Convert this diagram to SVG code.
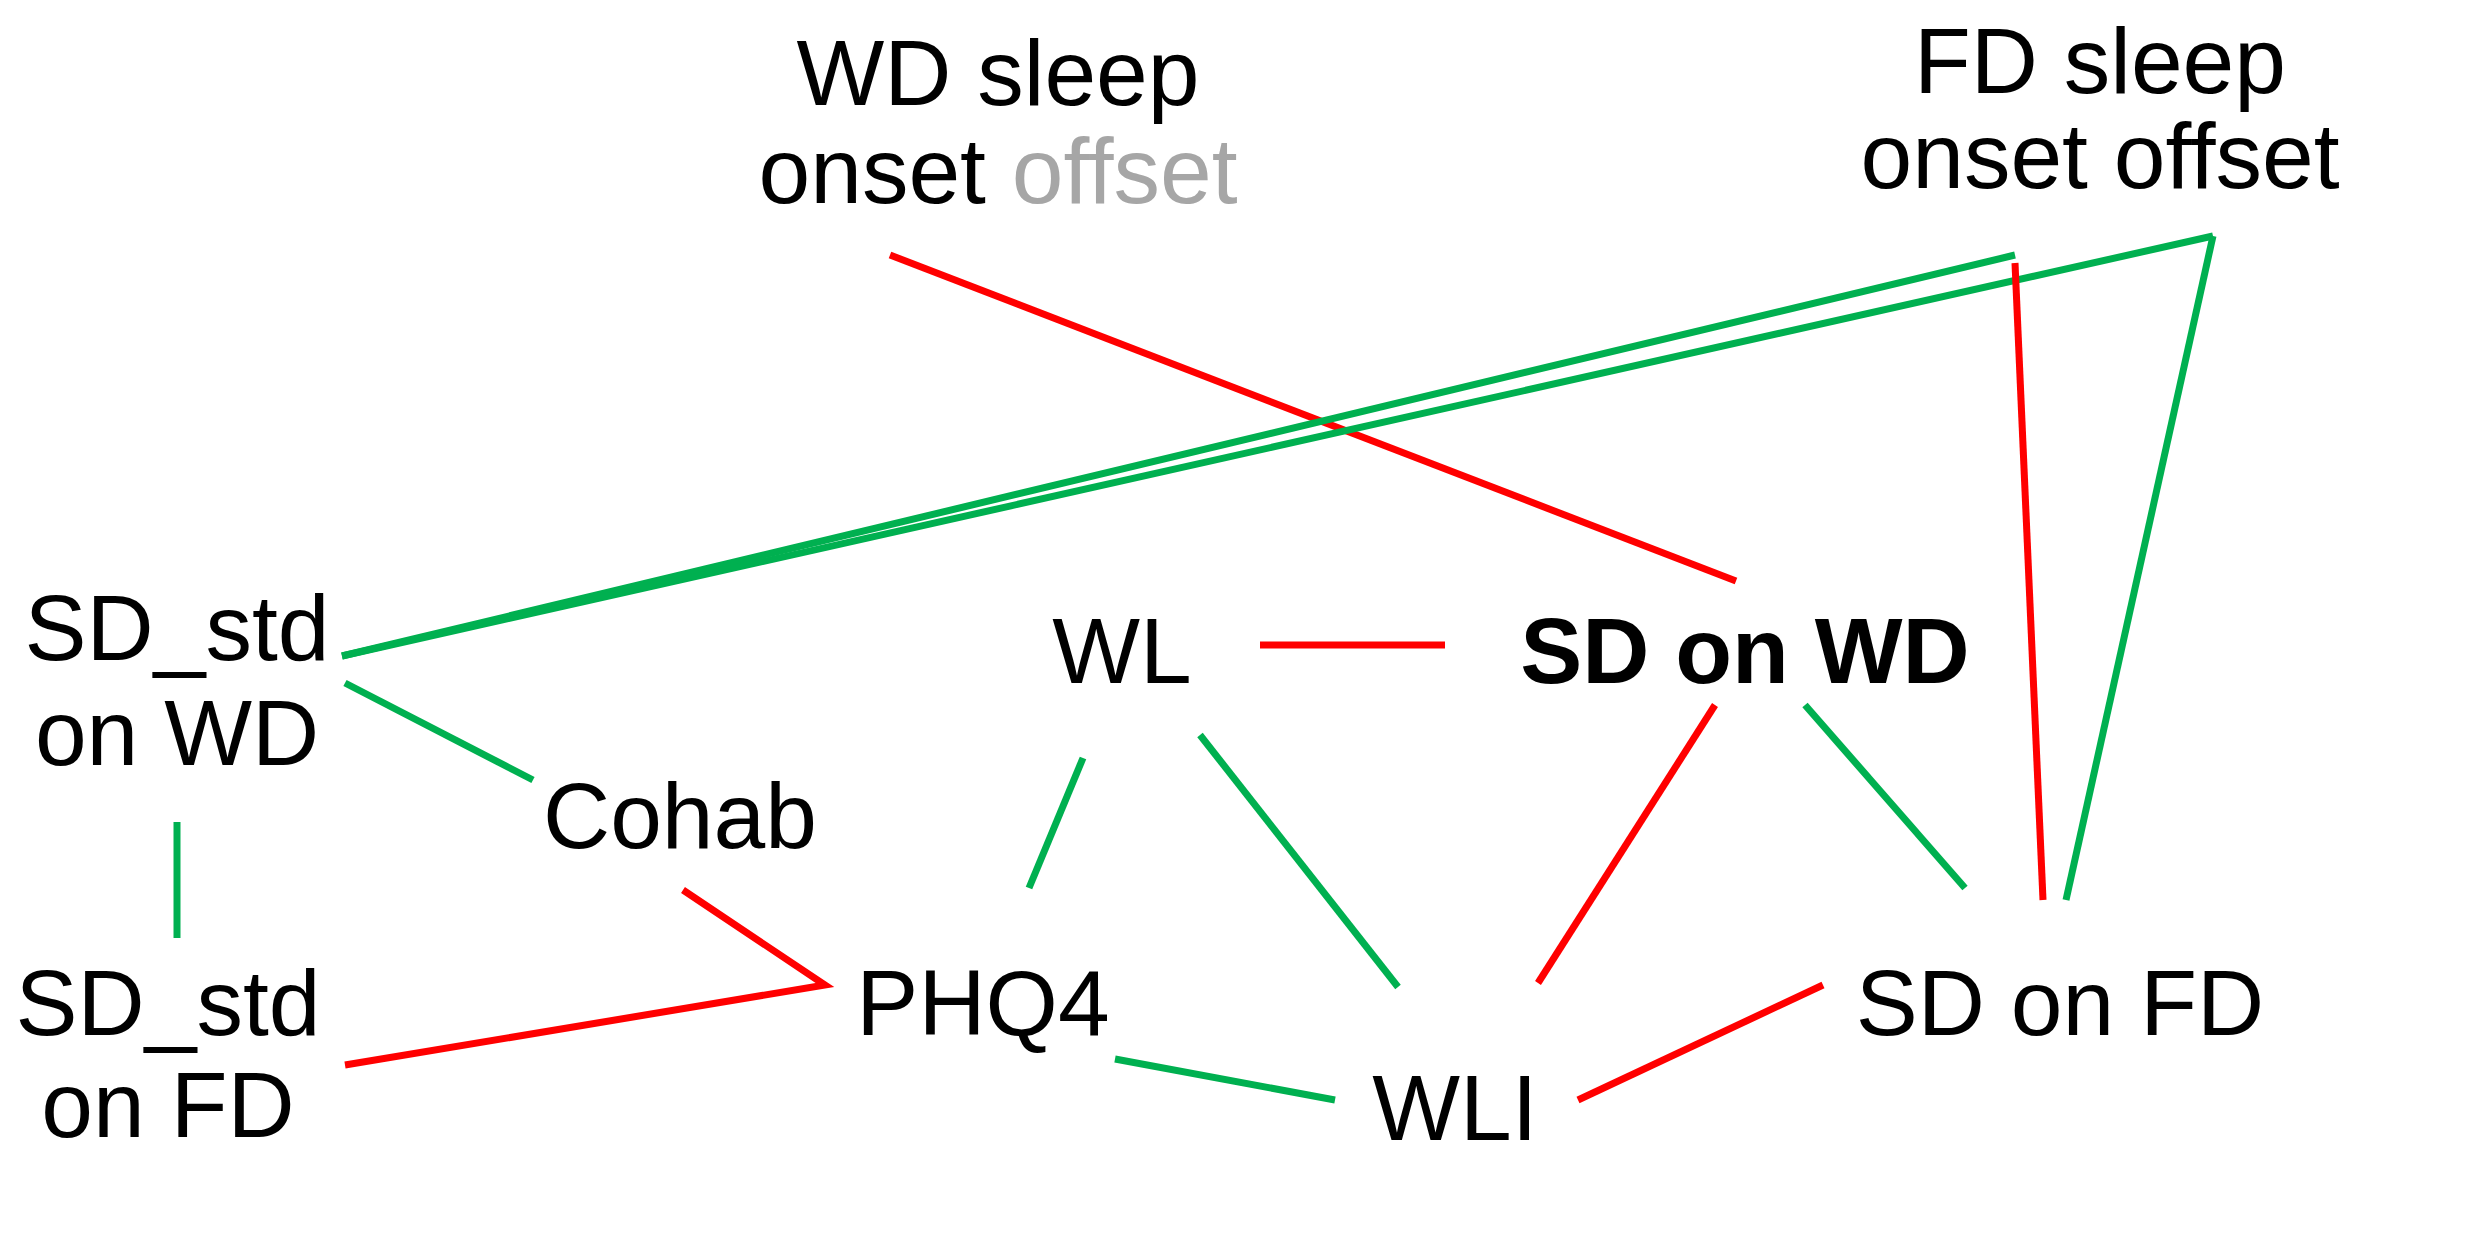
<svg xmlns="http://www.w3.org/2000/svg" width="2476" height="1235" viewBox="0 0 2476 1235">
<style>
text{font-family:"Liberation Sans",Arial,sans-serif;font-size:93px;fill:#000;text-anchor:middle}
.r{stroke:#ff0000;stroke-width:7;fill:none}
.g{stroke:#00b050;stroke-width:7;fill:none}
</style>
<rect width="2476" height="1235" fill="#fff"/>
<g id="connectors">
<line class="r" x1="890" y1="255" x2="1736" y2="581"/>
<line class="g" x1="2015" y1="255" x2="342" y2="656"/>
<line class="g" x1="2213" y1="236" x2="342" y2="656"/>
<line class="r" x1="2015" y1="263" x2="2043" y2="900"/>
<line class="g" x1="2213" y1="236" x2="2066" y2="900"/>
<line class="r" x1="1260" y1="645" x2="1445" y2="645"/>
<line class="g" x1="345" y1="683" x2="533" y2="780"/>
<line class="g" x1="177" y1="822" x2="177" y2="938"/>
<polyline class="r" points="683,890 825,985 345,1065"/>
<line class="g" x1="1083" y1="758" x2="1029" y2="888"/>
<line class="g" x1="1200" y1="735" x2="1398" y2="987"/>
<line class="r" x1="1715" y1="705" x2="1538" y2="983"/>
<line class="g" x1="1805" y1="705" x2="1965" y2="888"/>
<line class="r" x1="1823" y1="985" x2="1578" y2="1100"/>
<line class="g" x1="1115" y1="1059" x2="1335" y2="1100"/>
</g>
<g id="wd_sleep"><text x="998" y="105">WD sleep</text><text x="998" y="203">onset <tspan fill="#a6a6a6">offset</tspan></text></g>
<g id="fd_sleep"><text x="2100" y="93">FD sleep</text><text x="2100" y="188">onset offset</text></g>
<g id="sd_std_wd"><text x="177" y="660">SD_std</text><text x="177" y="765">on WD</text></g>
<g id="sd_std_fd"><text x="168" y="1035">SD_std</text><text x="168" y="1137">on FD</text></g>
<g id="cohab"><text x="680" y="848">Cohab</text></g>
<g id="wl"><text x="1122" y="683">WL</text></g>
<g id="sd_wd"><text x="1745" y="683" font-weight="bold">SD on WD</text></g>
<g id="phq4"><text x="983" y="1035">PHQ4</text></g>
<g id="wli"><text x="1455" y="1140">WLI</text></g>
<g id="sd_fd"><text x="2060" y="1035">SD on FD</text></g>
</svg>
